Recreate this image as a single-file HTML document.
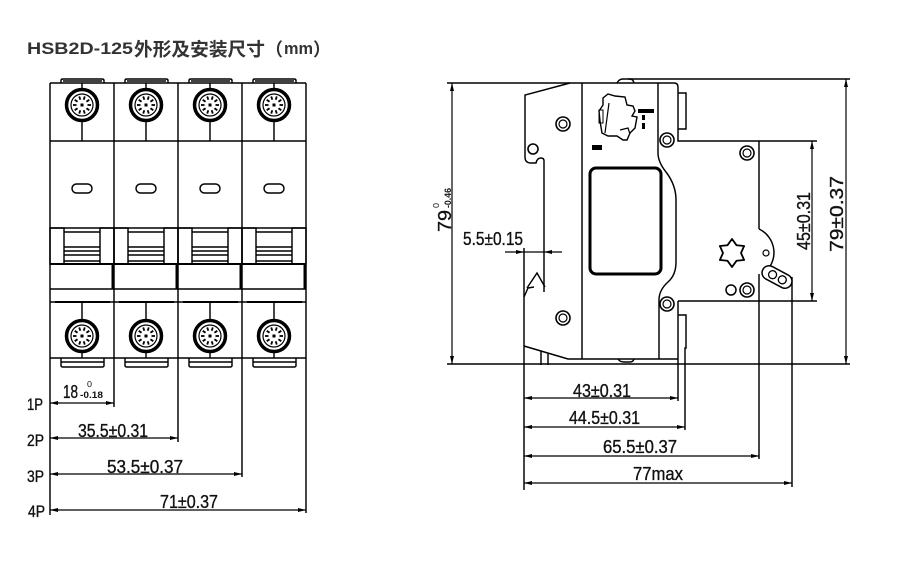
<!DOCTYPE html>
<html>
<head>
<meta charset="utf-8">
<style>
  html,body{margin:0;padding:0;background:#fff;}
  svg{display:block;}
  .l{stroke:#000;stroke-width:1.45;fill:none;}
  .d{stroke:#000;stroke-width:1.2;fill:none;}
  .t{font-family:"Liberation Sans","DejaVu Sans",sans-serif;fill:#111;stroke:#111;stroke-width:0.35;}
  .s{font-family:"Liberation Sans","DejaVu Sans",sans-serif;fill:#111;}
</style>
</head>
<body>
<svg width="900" height="562" viewBox="0 0 900 562" xmlns="http://www.w3.org/2000/svg">
<defs>
  <marker id="ar" viewBox="0 0 8 4" refX="8" refY="2" markerWidth="8" markerHeight="4" orient="auto-start-reverse" markerUnits="userSpaceOnUse">
    <path d="M0,0 L8,2 L0,4 Z" fill="#000"/>
  </marker>
  <g id="term">
    <circle r="15.5" fill="#fff" stroke="#000" stroke-width="3.5"/>
    <circle r="11" fill="none" stroke="#000" stroke-width="1.2"/>
    <g stroke="#000" stroke-width="1.8">
      <line x1="5.5" y1="0" x2="9" y2="0"/>
      <line x1="4.45" y1="3.23" x2="7.28" y2="5.29"/>
      <line x1="1.7" y1="5.23" x2="2.78" y2="8.56"/>
      <line x1="-1.7" y1="5.23" x2="-2.78" y2="8.56"/>
      <line x1="-4.45" y1="3.23" x2="-7.28" y2="5.29"/>
      <line x1="-5.5" y1="0" x2="-9" y2="0"/>
      <line x1="-4.45" y1="-3.23" x2="-7.28" y2="-5.29"/>
      <line x1="-1.7" y1="-5.23" x2="-2.78" y2="-8.56"/>
      <line x1="1.7" y1="-5.23" x2="2.78" y2="-8.56"/>
      <line x1="4.45" y1="-3.23" x2="7.28" y2="-5.29"/>
    </g>
    <rect x="-1.5" y="-1.5" width="3" height="3" fill="#000"/>
  </g>
  <g id="nut">
    <circle r="7" fill="#fff" stroke="#000" stroke-width="1.6"/>
    <circle r="4" fill="none" stroke="#000" stroke-width="1.2"/>
  </g>
  <g id="mod">
    <path class="l" d="M11,83 V80.5 Q11,79 13,79 H52 Q54,79 54,80.5 V83"/>
    <line class="l" x1="13" y1="81" x2="52" y2="81" stroke-width="0.8"/>
    <line class="l" x1="32" y1="83" x2="32" y2="141"/>
    <use href="#term" x="32" y="105"/>
    <rect class="l" x="22" y="184" width="20" height="9" rx="4.5"/>
    <rect class="l" x="0" y="228" width="14" height="36"/>
    <rect class="l" x="50" y="228" width="14" height="36"/>
    <line class="l" x1="14" y1="232" x2="50" y2="232"/>
    <line class="l" x1="14" y1="247" x2="50" y2="247"/>
    <line class="l" x1="14" y1="251" x2="50" y2="251"/>
    <line class="l" x1="14" y1="255" x2="50" y2="255"/>
    <line class="l" x1="14" y1="261" x2="50" y2="261"/>
    <line x1="63" y1="264" x2="63" y2="289" stroke="#000" stroke-width="3"/>
    <line x1="5" y1="302" x2="60" y2="302" stroke="#000" stroke-width="2"/>
    <line class="l" x1="32" y1="302" x2="32" y2="358"/>
    <use href="#term" x="32" y="336"/>
    <path class="l" d="M11,358 V365.5 Q11,367 13,367 H52 Q54,367 54,365.5 V358"/>
    <line class="l" x1="11" y1="362" x2="54" y2="362" stroke-width="0.9"/>
  </g>
</defs>

<!-- Title -->
<text x="27" y="54" font-size="17" font-weight="bold" style="fill:#333;font-family:'Liberation Sans',sans-serif" textLength="106" lengthAdjust="spacingAndGlyphs">HSB2D-125</text>
<text x="134" y="56" font-size="18.5" font-weight="bold" style="fill:#333;font-family:'Liberation Sans','Noto Sans CJK SC',sans-serif" textLength="131" lengthAdjust="spacingAndGlyphs">外形及安装尺寸</text>
<text x="265" y="56" font-size="18" font-weight="bold" style="fill:#333;font-family:'Liberation Sans','Noto Sans CJK SC',sans-serif">（</text>
<text x="284" y="54" font-size="17" font-weight="bold" style="fill:#333;font-family:'Liberation Sans',sans-serif" textLength="29" lengthAdjust="spacingAndGlyphs">mm</text>
<text x="313" y="56" font-size="18" font-weight="bold" style="fill:#333;font-family:'Liberation Sans','Noto Sans CJK SC',sans-serif">）</text>

<!-- ================= LEFT VIEW ================= -->
<use href="#mod" x="50"/>
<use href="#mod" x="114"/>
<use href="#mod" x="178"/>
<use href="#mod" x="242"/>

<g class="l">
  <line x1="50" y1="83" x2="306" y2="83"/>
  <line x1="50" y1="141" x2="306" y2="141"/>
  <line x1="50" y1="228" x2="306" y2="228" stroke-width="1.6"/>
  <line x1="50" y1="264" x2="306" y2="264" stroke-width="2"/>
  <line x1="50" y1="289" x2="306" y2="289"/>
  <line x1="50" y1="302" x2="306" y2="302"/>
  <line x1="50" y1="358" x2="306" y2="358"/>
  <line x1="50" y1="83" x2="50" y2="515"/>
  <line x1="114" y1="83" x2="114" y2="407"/>
  <line x1="178" y1="83" x2="178" y2="442"/>
  <line x1="242" y1="83" x2="242" y2="477"/>
  <line x1="306" y1="83" x2="306" y2="513"/>
</g>

<!-- left dims -->
<line class="d" x1="50" y1="403" x2="114" y2="403" marker-start="url(#ar)" marker-end="url(#ar)"/>
<line class="d" x1="50" y1="438" x2="178" y2="438" marker-start="url(#ar)" marker-end="url(#ar)"/>
<line class="d" x1="50" y1="474" x2="242" y2="474" marker-start="url(#ar)" marker-end="url(#ar)"/>
<line class="d" x1="50" y1="510" x2="306" y2="510" marker-start="url(#ar)" marker-end="url(#ar)"/>

<text class="t" x="27" y="410" font-size="16.5" textLength="16" lengthAdjust="spacingAndGlyphs">1P</text>
<text class="t" x="27" y="446" font-size="16.5" textLength="17" lengthAdjust="spacingAndGlyphs">2P</text>
<text class="t" x="27" y="482" font-size="16.5" textLength="17" lengthAdjust="spacingAndGlyphs">3P</text>
<text class="t" x="28" y="517" font-size="16.5" textLength="17" lengthAdjust="spacingAndGlyphs">4P</text>

<text class="t" x="63" y="398" font-size="18" textLength="15" lengthAdjust="spacingAndGlyphs">18</text>
<text class="s" x="87" y="387" font-size="8" textLength="5" lengthAdjust="spacingAndGlyphs">0</text>
<text class="s" x="80" y="398" font-size="9" font-weight="bold" textLength="23" lengthAdjust="spacingAndGlyphs">-0.18</text>
<text class="t" x="78" y="437" font-size="18.5" textLength="70" lengthAdjust="spacingAndGlyphs">35.5±0.31</text>
<text class="t" x="107" y="473" font-size="18.5" textLength="76" lengthAdjust="spacingAndGlyphs">53.5±0.37</text>
<text class="t" x="160" y="508" font-size="18.5" textLength="58" lengthAdjust="spacingAndGlyphs">71±0.37</text>

<!-- ================= RIGHT VIEW ================= -->
<g class="l">
  <line x1="447" y1="83" x2="570" y2="83"/>
  <path d="M570,83 L525,95 L525,157 Q525,163 531,163 L536,163 Q537,158 541,158 Q544,158 544,161 L544,292"/>
  <path d="M527,288 L537,273 L545,287 M524,297 L528,288 L534,287"/>
  <line x1="570" y1="83" x2="674" y2="83"/>
  <path d="M617,83 Q619,79 623,79 L630,79 Q633,79 634,83"/>
  <path d="M674,83 Q678,83 678,87 L678,141 L817,141"/>
  <line x1="628" y1="79" x2="850" y2="79"/>
  <path d="M678,93 L686,93 L686,129 L678,129"/>
  <line x1="582" y1="83" x2="582" y2="359"/>
  <path d="M658,83 L658,153 Q658,162 666,172 Q676,185 676,200 L676,262 Q676,275 668,282 Q659,290 659,300 L659,359"/>
  <path d="M524,346 L568,359 L678,359"/>
  <path d="M541,351 L541,365 M548,353 L548,365"/>
  <path d="M618,359 Q620,362 624,362 L630,362 Q633,362 634,359"/>
  <line x1="447" y1="364" x2="850" y2="364"/>
  <line x1="524" y1="248" x2="524" y2="490"/>
  <line x1="678" y1="301" x2="817" y2="301"/>
  <line x1="678" y1="301" x2="678" y2="401"/>
  <path d="M678,315 L686,315 L686,348 L685,348 L685,430"/>
  <line x1="759" y1="141" x2="759" y2="229"/>
  <line x1="759" y1="274" x2="759" y2="459"/>
  <path d="M759,229 A26,26 0 0 1 764,273"/>
  <line x1="792" y1="277" x2="792" y2="487"/>
  <path d="M603,98 L608,94 L615,96 L625,97 L627,105 L633,106 L635,111 L632,116 L637,117 L635,128 L630,133 L627,140 L623,140 L617,136 L608,136 L602,133 L600,121 L599,111 L603,105 Z" stroke-width="1.4"/>
  <path d="M609,103 L605,133 M620,130 L628,128 L630,134" stroke-width="1.2"/>
  <rect x="599" y="110" width="4" height="13" stroke-width="1"/>
</g>
<rect x="638" y="109" width="16" height="4" fill="#000"/>
<rect x="642" y="115" width="3" height="5" fill="#000"/>
<rect x="642" y="123" width="3" height="6" fill="#000"/>
<rect x="592" y="145" width="10" height="5" fill="#000"/>

<rect x="590" y="168" width="71" height="106" rx="6" fill="none" stroke="#000" stroke-width="3"/>

<circle cx="533" cy="149" r="5" fill="#fff" stroke="#000" stroke-width="1.6"/>
<use href="#nut" x="563" y="124"/>
<use href="#nut" x="563" y="318"/>
<use href="#nut" x="667" y="140"/>
<use href="#nut" x="667" y="304"/>
<use href="#nut" x="747" y="153"/>
<use href="#nut" x="747" y="290"/>
<circle cx="731" cy="290" r="5" fill="#fff" stroke="#000" stroke-width="1.5"/>
<circle cx="766" cy="253" r="3" fill="#fff" stroke="#000" stroke-width="1.2"/>

<path transform="translate(732,253)" d="M0,-14 L4.5,-7.79 L12.12,-7 L9,0 L12.12,7 L4.5,7.79 L0,14 L-4.5,7.79 L-12.12,7 L-9,0 L-12.12,-7 L-4.5,-7.79 Z" fill="#fff" stroke="#000" stroke-width="1.8" stroke-linejoin="round"/>

<g transform="translate(777,277) rotate(28)">
  <rect x="-16" y="-7" width="32" height="14" rx="7" fill="#fff" stroke="#000" stroke-width="1.5"/>
  <circle cx="-5" cy="0" r="4" fill="none" stroke="#000" stroke-width="1.3"/>
  <circle cx="6" cy="0" r="4" fill="none" stroke="#000" stroke-width="1.3"/>
</g>

<line class="d" x1="452" y1="83" x2="452" y2="364" marker-start="url(#ar)" marker-end="url(#ar)"/>
<line class="d" x1="812" y1="141" x2="812" y2="301" marker-start="url(#ar)" marker-end="url(#ar)"/>
<line class="d" x1="846" y1="79" x2="846" y2="364" marker-start="url(#ar)" marker-end="url(#ar)"/>
<line class="d" x1="505" y1="252" x2="524" y2="252" marker-end="url(#ar)"/>
<line class="d" x1="524" y1="252" x2="544" y2="252"/>
<line class="d" x1="562" y1="252" x2="544" y2="252" marker-end="url(#ar)"/>

<line class="d" x1="524" y1="398" x2="678" y2="398" marker-start="url(#ar)" marker-end="url(#ar)"/>
<line class="d" x1="524" y1="427" x2="685" y2="427" marker-start="url(#ar)" marker-end="url(#ar)"/>
<line class="d" x1="524" y1="456" x2="759" y2="456" marker-start="url(#ar)" marker-end="url(#ar)"/>
<line class="d" x1="524" y1="483" x2="792" y2="483" marker-start="url(#ar)" marker-end="url(#ar)"/>

<text class="t" x="463" y="245" font-size="18" textLength="60" lengthAdjust="spacingAndGlyphs">5.5±0.15</text>
<text class="t" x="573" y="397" font-size="18.5" textLength="58" lengthAdjust="spacingAndGlyphs">43±0.31</text>
<text class="t" x="569" y="424" font-size="18.5" textLength="71" lengthAdjust="spacingAndGlyphs">44.5±0.31</text>
<text class="t" x="603" y="453" font-size="18.5" textLength="74" lengthAdjust="spacingAndGlyphs">65.5±0.37</text>
<text class="t" x="633" y="480" font-size="18.5" textLength="50" lengthAdjust="spacingAndGlyphs">77max</text>

<text class="t" transform="translate(810,250) rotate(-90)" font-size="18.5" textLength="58" lengthAdjust="spacingAndGlyphs">45±0.31</text>
<text class="t" transform="translate(843,252) rotate(-90)" font-size="18.5" textLength="76" lengthAdjust="spacingAndGlyphs">79±0.37</text>
<text class="t" transform="translate(451,232) rotate(-90)" font-size="18.5" textLength="22" lengthAdjust="spacingAndGlyphs">79</text>
<text class="s" transform="translate(439,208) rotate(-90)" font-size="8" textLength="5" lengthAdjust="spacingAndGlyphs">0</text>
<text class="s" transform="translate(451,208) rotate(-90)" font-size="9" font-weight="bold" textLength="20" lengthAdjust="spacingAndGlyphs">-0.46</text>
</svg>
</body>
</html>
